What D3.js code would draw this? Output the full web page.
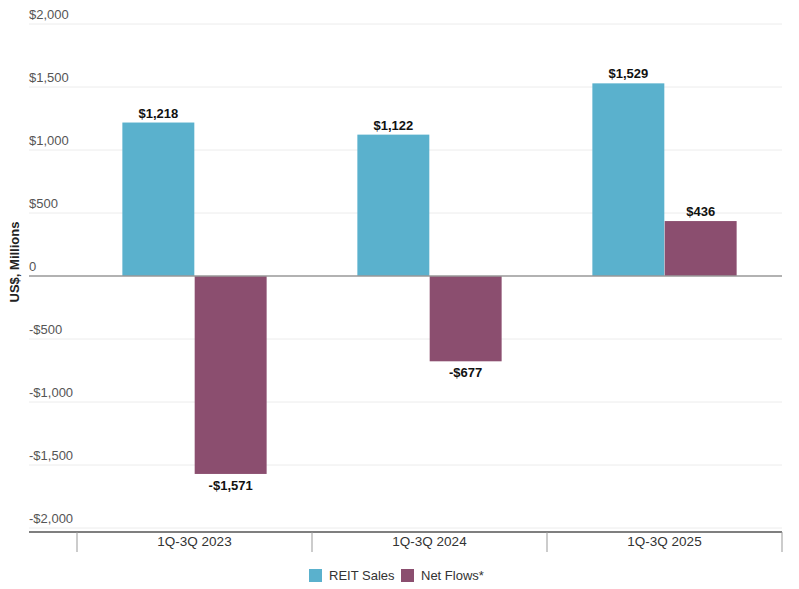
<!DOCTYPE html>
<html>
<head>
<meta charset="utf-8">
<script src="https://cdn.jsdelivr.net/npm/d3@7"></script>
<style>
  body { margin: 0; background: #fff; }
  svg { font-family: "Liberation Sans", Arial, sans-serif; }
  .tick-label { fill: #555; font-size: 13px; }
  .val-label { fill: #111; font-size: 13px; font-weight: bold; }
</style>
</head>
<body>
<svg id="chart" width="799" height="589"></svg>
<script>
const categories = ["1Q-3Q 2023", "1Q-3Q 2024", "1Q-3Q 2025"];
const seriesNames = ["REIT Sales", "Net Flows*"];
const reitSales = [1218, 1122, 1529];
const netFlows = [-1571, -677, 436];
const yTicks = [2000, 1500, 1000, 500, 0, -500, -1000, -1500, -2000];
const colors = ["#5ab1cd", "#8b4e6f"];

const svg = d3.select("#chart");
const fmt = v => (v < 0 ? "-" : "") + (v === 0 ? "0" : "$" + d3.format(",")(Math.abs(v)));

const gridLeft = 29, gridRight = 782;
const y = d3.scaleLinear().domain([-2000, 2000]).range([528, 24]);
const x0 = d3.scaleBand().domain(categories).range([77, 782]).paddingInner(0).paddingOuter(0);
const x1 = d3.scaleBand().domain(seriesNames).range([45, 235 - 45]).padding(0.005);

// grid lines + tick labels
const grid = svg.append("g");
grid.selectAll("line").data(yTicks.filter(d => d !== 0)).join("line")
  .attr("x1", gridLeft).attr("x2", gridRight)
  .attr("y1", d => y(d)).attr("y2", d => y(d))
  .attr("stroke", "#ececec").attr("stroke-width", 1);
grid.selectAll("text").data(yTicks).join("text")
  .attr("class", "tick-label")
  .attr("x", gridLeft).attr("y", d => y(d) - 5)
  .text(fmt);

// bars
const rows = categories.map((c, i) => ({cat: c, vals: [reitSales[i], netFlows[i]]}));
const groups = svg.append("g").selectAll("g").data(rows).join("g")
  .attr("transform", d => `translate(${x0(d.cat)},0)`);

groups.selectAll("rect").data(d => d.vals.map((v, j) => ({v, s: seriesNames[j], j}))).join("rect")
  .attr("x", d => x1(d.s))
  .attr("width", x1.bandwidth())
  .attr("y", d => y(Math.max(0, d.v)))
  .attr("height", d => Math.abs(y(d.v) - y(0)))
  .attr("fill", d => colors[d.j]);

groups.selectAll("text").data(d => d.vals.map((v, j) => ({v, s: seriesNames[j]}))).join("text")
  .attr("class", "val-label")
  .attr("text-anchor", "middle")
  .attr("x", d => x1(d.s) + x1.bandwidth() / 2)
  .attr("y", d => d.v >= 0 ? y(d.v) - 5 : y(d.v) + 16)
  .text(d => fmt(d.v));

// zero line
svg.append("line")
  .attr("x1", gridLeft).attr("x2", gridRight)
  .attr("y1", y(0)).attr("y2", y(0))
  .attr("stroke", "#999").attr("stroke-width", 1.5);

// category axis
const axisY = 532;
svg.append("line")
  .attr("x1", gridLeft).attr("x2", gridRight)
  .attr("y1", axisY).attr("y2", axisY)
  .attr("stroke", "#555").attr("stroke-width", 1.5);
const bounds = categories.map(c => x0(c)).concat([x0.range()[1]]);
svg.append("g").selectAll("line").data(bounds).join("line")
  .attr("x1", d => d).attr("x2", d => d)
  .attr("y1", axisY).attr("y2", 552)
  .attr("stroke", "#999").attr("stroke-width", 1);
svg.append("g").selectAll("text").data(categories).join("text")
  .attr("class", "tick-label")
  .attr("text-anchor", "middle")
  .attr("x", d => x0(d) + x0.bandwidth() / 2)
  .attr("y", 546)
  .style("fill", "#333").style("font-size", "13.5px")
  .text(d => d);

// y title
svg.append("text")
  .attr("transform", "translate(19,262) rotate(-90)")
  .attr("text-anchor", "middle")
  .style("font-size", "13px").style("font-weight", "bold").style("fill", "#222")
  .text("US$, Millions");

// legend
const legend = svg.append("g");
const legX = [309, 401];
seriesNames.forEach((s, i) => {
  legend.append("rect").attr("x", legX[i]).attr("y", 569).attr("width", 13).attr("height", 13).attr("fill", colors[i]);
  legend.append("text").attr("x", legX[i] + 20).attr("y", 580)
    .style("font-size", "13px").style("fill", "#333").text(s);
});
</script>
</body>
</html>
